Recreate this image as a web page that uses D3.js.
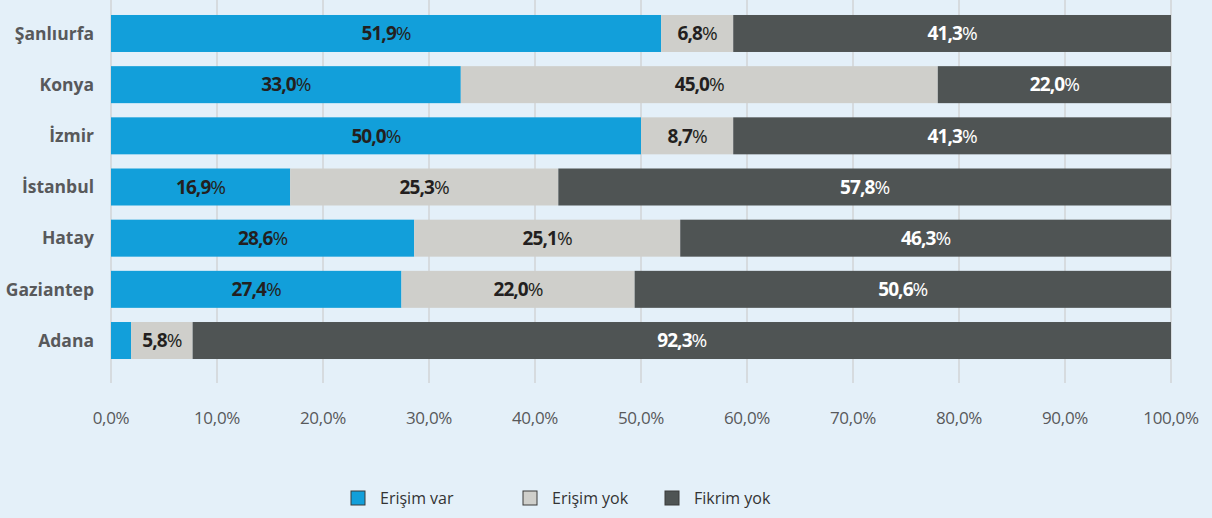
<!DOCTYPE html>
<html>
<head>
<meta charset="utf-8">
<script src="https://cdn.jsdelivr.net/npm/d3@7"></script>
<style>
  body { margin: 0; background: #e4f0f9; }
  svg { display: block; font-family: "Open Sans", "Noto Sans", sans-serif; }
</style>
</head>
<body>
<div id="chart"></div>
<script>
// Cities, top to bottom
const cities = ["Şanlıurfa", "Konya", "İzmir", "İstanbul", "Hatay", "Gaziantep", "Adana"];
// Series values (%)
const erisimVar = [51.9, 33.0, 50.0, 16.9, 28.6, 27.4, 1.9];
const erisimYok = [6.8, 45.0, 8.7, 25.3, 25.1, 22.0, 5.8];
const fikrimYok = [41.3, 22.0, 41.3, 57.8, 46.3, 50.6, 92.3];
const seriesNames = ["Erişim var", "Erişim yok", "Fikrim yok"];
const colors = ["#129fda", "#cfcfcb", "#4f5454"];
const xTicks = [0, 10, 20, 30, 40, 50, 60, 70, 80, 90, 100];

const totalWidth = 1212, totalHeight = 518;
const margin = { left: 111, right: 41 };

const svg = d3.select("#chart").append("svg")
  .attr("width", totalWidth)
  .attr("height", totalHeight);

svg.append("rect").attr("width", totalWidth).attr("height", totalHeight).attr("fill", "#e4f0f9");

const xScale = d3.scaleLinear().domain([0, 100]).range([margin.left, totalWidth - margin.right]);
const yScale = d3.scaleBand().domain(cities).range([7.9, 366.1]).paddingInner(0.277).paddingOuter(0.1385);

// Gridlines
svg.append("g").selectAll("line").data(xTicks).enter().append("line")
  .attr("x1", d => xScale(d)).attr("x2", d => xScale(d))
  .attr("y1", 0).attr("y2", 383)
  .attr("stroke", "#d2d4d6").attr("stroke-width", 1.5);

// Stack data
const rows = cities.map((c, i) => ({ city: c, 0: erisimVar[i], 1: erisimYok[i], 2: fikrimYok[i] }));
const stack = d3.stack().keys([0, 1, 2])(rows);

const g = svg.append("g");
stack.forEach((layer, k) => {
  layer.forEach((d, i) => {
    const x0 = xScale(d[0]), x1 = xScale(d[1]);
    g.append("rect")
      .attr("x", x0).attr("y", yScale(cities[i]))
      .attr("width", x1 - x0).attr("height", yScale.bandwidth())
      .attr("fill", colors[k]);
    const v = d[1] - d[0];
    if (v >= 5) {
      const t = g.append("text")
        .attr("x", (x0 + x1) / 2)
        .attr("y", yScale(cities[i]) + yScale.bandwidth() / 2)
        .attr("dy", "0.36em")
        .attr("text-anchor", "middle")
        .attr("font-size", 19)
        .attr("letter-spacing", "-0.9")
        .attr("fill", k === 2 ? "#ffffff" : "#231f20");
      t.append("tspan").attr("font-weight", 700).text(d3.format(".1f")(v).replace(".", ","));
      t.append("tspan").attr("font-weight", 400).text("%");
    }
  });
});

// Category labels
svg.append("g").selectAll("text").data(cities).enter().append("text")
  .attr("x", 94)
  .attr("y", d => yScale(d) + yScale.bandwidth() / 2)
  .attr("dy", "0.36em")
  .attr("text-anchor", "end")
  .attr("font-size", 17.5).attr("font-weight", 700)
  .attr("fill", "#58595b")
  .text(d => d);

// X axis labels
svg.append("g").selectAll("text").data(xTicks).enter().append("text")
  .attr("x", d => xScale(d))
  .attr("y", 424)
  .attr("text-anchor", "middle")
  .attr("font-size", 17)
  .attr("letter-spacing", "-0.3")
  .attr("fill", "#58595b")
  .text(d => d3.format(".1f")(d).replace(".", ",") + "%");

// Legend
const legendX = [351, 523, 665];
const legend = svg.append("g");
seriesNames.forEach((name, i) => {
  legend.append("rect")
    .attr("x", legendX[i]).attr("y", 491)
    .attr("width", 14).attr("height", 14)
    .attr("fill", colors[i]).attr("stroke", "#3a3a3a").attr("stroke-width", 1);
  legend.append("text")
    .attr("x", legendX[i] + 29).attr("y", 504)
    .attr("font-size", 16).attr("fill", "#333")
    .text(name);
});
</script>
</body>
</html>
